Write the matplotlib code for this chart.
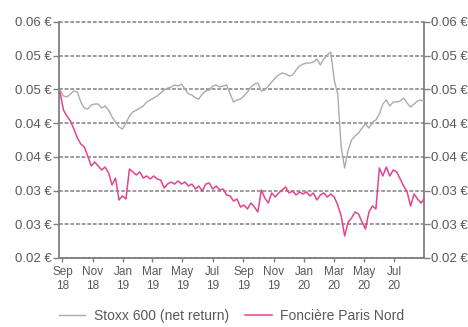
import matplotlib
matplotlib.use("Agg")
import matplotlib.pyplot as plt
import matplotlib.dates as mdates
import numpy as np
import pandas as pd

# weekly closes, rebased to the share price
dates = pd.date_range("2018-08-27", periods=106, freq="7D")

stoxx = [
    0.04847, 0.04746, 0.04729, 0.04780, 0.04831, 0.04814, 0.04644, 0.04542, 0.04525, 0.04593,
    0.04610, 0.04610, 0.04542, 0.04576, 0.04508, 0.04390, 0.04305, 0.04220, 0.04186, 0.04288,
    0.04407, 0.04475, 0.04508, 0.04542, 0.04576, 0.04644, 0.04678, 0.04712, 0.04746, 0.04797,
    0.04847, 0.04881, 0.04898, 0.04932, 0.04915, 0.04949, 0.04864, 0.04780, 0.04763, 0.04712,
    0.04695, 0.04780, 0.04831, 0.04847, 0.04915, 0.04932, 0.04898, 0.04915, 0.04932, 0.04780,
    0.04644, 0.04678, 0.04695, 0.04746, 0.04814, 0.04898, 0.04949, 0.04966, 0.04831, 0.04847,
    0.04915, 0.04983, 0.05051, 0.05102, 0.05136, 0.05119, 0.05085, 0.05102, 0.05186, 0.05254,
    0.05288, 0.05305, 0.05305, 0.05322, 0.05373, 0.05271, 0.05373, 0.05441, 0.05492, 0.05017,
    0.04780, 0.03881, 0.03525, 0.03831, 0.04000, 0.04068, 0.04119, 0.04203, 0.04271, 0.04203,
    0.04305, 0.04339, 0.04441, 0.04610, 0.04678, 0.04576, 0.04644, 0.04644, 0.04661, 0.04712,
    0.04627, 0.04559, 0.04610, 0.04661, 0.04678, 0.04644,
]

fpn = [
    0.04814, 0.04508, 0.04407, 0.04322, 0.04186, 0.04034, 0.03932, 0.03881, 0.03729, 0.03559,
    0.03627, 0.03559, 0.03492, 0.03542, 0.03441, 0.03237, 0.03356, 0.02983, 0.03051, 0.03000,
    0.03508, 0.03458, 0.03407, 0.03458, 0.03356, 0.03390, 0.03339, 0.03390, 0.03339, 0.03322,
    0.03186, 0.03254, 0.03288, 0.03254, 0.03305, 0.03254, 0.03288, 0.03220, 0.03254, 0.03169,
    0.03220, 0.03136, 0.03254, 0.03271, 0.03169, 0.03220, 0.03153, 0.03169, 0.03068, 0.03051,
    0.02966, 0.03000, 0.02864, 0.02898, 0.02831, 0.02932, 0.02864, 0.02780, 0.03153, 0.03017,
    0.02932, 0.03102, 0.03034, 0.03102, 0.03153, 0.03203, 0.03102, 0.03136, 0.03068, 0.03119,
    0.03085, 0.03119, 0.03051, 0.03102, 0.02983, 0.03068, 0.03102, 0.03034, 0.03085, 0.03034,
    0.02898, 0.02712, 0.02373, 0.02610, 0.02678, 0.02780, 0.02746, 0.02610, 0.02492, 0.02780,
    0.02881, 0.02831, 0.03525, 0.03390, 0.03542, 0.03390, 0.03492, 0.03458, 0.03339, 0.03220,
    0.03119, 0.02881, 0.03085, 0.03000, 0.02932, 0.03017,
]

labels = ["Stoxx 600 (net return)", "Foncière Paris Nord"]
grey = "#ababab"
pink = "#e2448f"
axis_col = "#808080"
text_col = "#595959"

plt.rcParams["font.family"] = ["Liberation Sans", "DejaVu Sans"]

fig = plt.figure(figsize=(4.68, 3.27), dpi=100)
ax = fig.add_axes([59 / 468, 1 - 258 / 327, 365 / 468, 236 / 327])

ax.plot(dates, stoxx, color=grey, lw=1.0, label=labels[0], zorder=3)
ax.plot(dates, fpn, color=pink, lw=1.1, label=labels[1], zorder=4)

ax.set_ylim(0.02, 0.06)
ax.set_xlim(pd.Timestamp("2018-08-25"), pd.Timestamp("2020-08-30"))

yt = np.linspace(0.02, 0.06, 8)
ax.set_yticks(yt)
ax.yaxis.set_major_formatter(plt.FuncFormatter(lambda v, p: "%.2f €" % v))
ax.yaxis.grid(True, color=axis_col, lw=1.1, linestyle=(0, (2.5, 1.2)))
ax.set_axisbelow(True)
for gl in ax.get_ygridlines():
    gl.set_clip_on(False)

ax.xaxis.set_major_locator(mdates.MonthLocator(bymonth=[1, 3, 5, 7, 9, 11]))
ax.xaxis.set_major_formatter(mdates.DateFormatter("%b\n%y"))

for s in ["left", "right", "bottom"]:
    ax.spines[s].set_color(axis_col)
    ax.spines[s].set_linewidth(1.3)
ax.spines["top"].set_visible(False)

ax.tick_params(axis="y", which="both", left=True, right=True, labelleft=True, labelright=True,
               length=4, width=1, color=axis_col, labelcolor=text_col, labelsize=9.5, pad=1)
ax.tick_params(axis="x", length=3, width=1, color=axis_col, labelcolor=text_col,
               labelsize=8.5, pad=3)
for t in ax.get_xticklabels():
    t.set_linespacing(1.2)

fig.legend(loc="center", bbox_to_anchor=(0.495, 0.035), ncol=2, frameon=False,
           fontsize=10, handlelength=1.9, handletextpad=0.6, columnspacing=1.2,
           labelcolor=text_col)

fig.savefig("out.png", dpi=100)
